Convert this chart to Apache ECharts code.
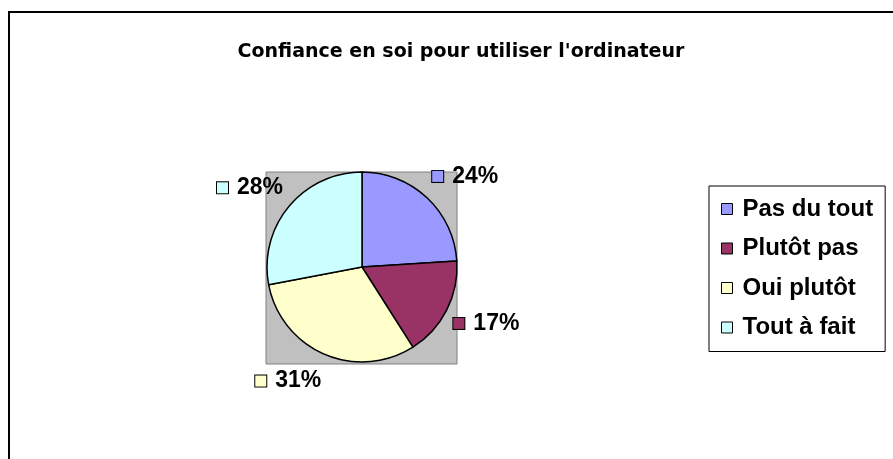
<!DOCTYPE html>
<html>
<head>
<meta charset="utf-8">
<title>Confiance en soi pour utiliser l'ordinateur</title>
<script src="https://cdn.jsdelivr.net/npm/echarts@6/dist/echarts.min.js"></script>
<style>
  html, body { margin: 0; padding: 0; background: #fff; }
  #chart { width: 893px; height: 459px; }
</style>
</head>
<body>
<div id="chart"></div>
<script>
// Data (percent of answers)
const categories = ['Pas du tout', 'Plutôt pas', 'Oui plutôt', 'Tout à fait'];
const shares = [24, 17, 31, 28];
const sliceColors = ['#9999FF', '#993366', '#FFFFCC', '#CCFFFF'];
const chartTitle = "Confiance en soi pour utiliser l'ordinateur";

const FONT = '"Liberation Sans", Arial, sans-serif';
// Excel draws the title with loose letter spacing; a wider face keeps its footprint
const TITLE_FONT = '"DejaVu Sans", "Liberation Sans", sans-serif';
const PIE_CENTER = [362, 267];

const myChart = echarts.init(document.getElementById('chart'));

// Build the pie data with a small colour key in front of each label
const pieData = categories.map((name, i) => ({
  name: name,
  value: shares[i],
  itemStyle: { color: sliceColors[i] },
  label: {
    rich: {
      box: {
        width: 11,
        height: 11,
        backgroundColor: sliceColors[i],
        borderColor: '#000',
        borderWidth: 1
      },
      val: {
        fontFamily: FONT,
        fontSize: 23,
        fontWeight: 'bold',
        color: '#000',
        padding: [0, 0, 0, 9]
      }
    }
  }
}));

/**
 * Excel spreads its data labels a bit more vertically than horizontally,
 * so stretch the default label anchors around the pie centre.
 */
const spreadLabels = (params) => {
  const r = params.labelRect;
  const onLeft = r.x + r.width / 2 < PIE_CENTER[0];
  const ax = onLeft ? r.x + r.width : r.x;
  const ay = r.y + r.height / 2;
  return {
    dx: (ax - PIE_CENTER[0]) * (0.94 - 1),
    dy: (ay - PIE_CENTER[1]) * (1.14 - 1)
  };
};

const option = {
  backgroundColor: '#fff',
  animation: false,
  title: {
    text: chartTitle,
    left: 456,
    top: 38,
    textAlign: 'center',
    textStyle: {
      fontFamily: TITLE_FONT,
      fontSize: 19,
      fontWeight: 'bold',
      color: '#000'
    }
  },
  // grey plot area behind the pie (Excel style)
  grid: {
    show: true,
    left: 266,
    top: 172,
    width: 191,
    height: 192,
    backgroundColor: '#C0C0C0',
    borderColor: '#808080',
    borderWidth: 1
  },
  xAxis: { type: 'value', show: false },
  yAxis: { type: 'value', show: false },
  legend: {
    orient: 'vertical',
    left: 709,
    top: 186,
    padding: [11, 12, 12, 12],
    borderColor: '#000',
    borderWidth: 1,
    itemWidth: 11,
    itemHeight: 11,
    itemGap: 15.5,
    icon: 'rect',
    itemStyle: { borderColor: '#000', borderWidth: 1 },
    textStyle: {
      fontFamily: FONT,
      fontSize: 24,
      fontWeight: 'bold',
      color: '#000',
      lineHeight: 24,
      padding: [0, 0, 0, 5]
    },
    data: categories
  },
  graphic: [
    {
      // outer chart frame, only its top and left edges fall inside the picture
      type: 'rect',
      shape: { x: 9, y: 12, width: 2000, height: 2000 },
      style: { fill: 'none', stroke: '#000', lineWidth: 2 },
      silent: true
    }
  ],
  series: [
    {
      type: 'pie',
      center: PIE_CENTER,
      radius: 95,
      startAngle: 90,
      clockwise: true,
      avoidLabelOverlap: false,
      itemStyle: { borderColor: '#000', borderWidth: 1.5 },
      label: {
        show: true,
        position: 'outside',
        distanceToLabelLine: 0,
        formatter: (p) => '{box|}{val|' + p.value + '%}'
      },
      labelLine: { show: false, length: 14, length2: 0 },
      labelLayout: spreadLabels,
      emphasis: { disabled: true },
      data: pieData
    }
  ]
};

myChart.setOption(option);
</script>
</body>
</html>
